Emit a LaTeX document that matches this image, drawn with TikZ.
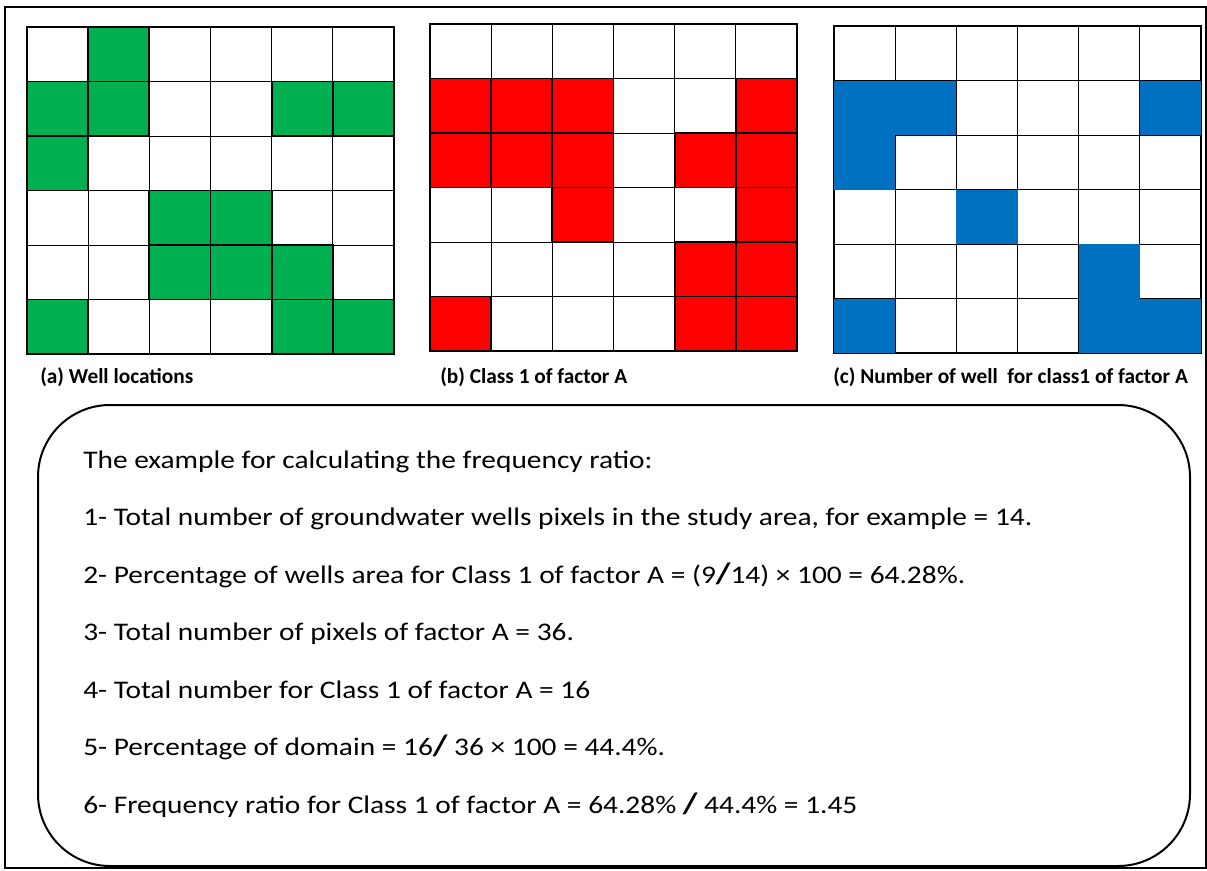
\documentclass[tikz,border=0pt]{standalone}
\usepackage{fontspec}
\setmainfont{Carlito}
\newfontfamily\bodyfont[FakeStretch=1.16]{Carlito}
\definecolor{WellClr}{HTML}{00B050}
\definecolor{ClassClr}{HTML}{FF0000}
\definecolor{HitClr}{HTML}{0070C0}
\newcommand{\cw}{61.17}
\newcommand{\ch}{54.5}
\newcommand{\bigslash}{{\fontsize{22}{22}\selectfont\bfseries/}}

\tikzset{
  gridline/.style={line width=0.6pt},
  cellbox/.style={line width=1.4pt},
  frameline/.style={line width=1.4pt},
  caption/.style={anchor=base west,inner sep=0pt,font=\bfseries\fontsize{16}{19}\selectfont},
  textline/.style={anchor=base west,inner sep=0pt,font=\bodyfont\fontsize{19}{23}\selectfont},
}

\begin{document}
\begin{tikzpicture}[x=0.75pt,y=-0.75pt]
\useasboundingbox (0,0) rectangle (1207,871);
\draw[line width=1.2pt] (5,7) rectangle (1206,868);

% (a) well locations
\begin{scope}[shift={(27,27)}]
\foreach \i in {1,...,5} {
  \draw[gridline] (\i*\cw,0) -- (\i*\cw,327);
  \draw[gridline] (0,\i*\ch) -- (367,\i*\ch);
}
\foreach \c/\r in {1/0,0/1,1/1,4/1,5/1,0/2,2/3,3/3,2/4,3/4,4/4,0/5,4/5,5/5}
  \draw[cellbox,fill=WellClr] (\c*\cw,\r*\ch) rectangle ++(\cw,\ch);
\draw[frameline] (0,0) rectangle (367,327);
\end{scope}

% (b) class 1 of factor A
\begin{scope}[shift={(430,24)}]
\foreach \i in {1,...,5} {
  \draw[gridline] (\i*\cw,0) -- (\i*\cw,327);
  \draw[gridline] (0,\i*\ch) -- (367,\i*\ch);
}
\foreach \c/\r in {0/1,1/1,2/1,5/1,0/2,1/2,2/2,4/2,5/2,2/3,5/3,4/4,5/4,0/5,4/5,5/5}
  \draw[cellbox,fill=ClassClr] (\c*\cw,\r*\ch) rectangle ++(\cw,\ch);
\draw[frameline] (0,0) rectangle (367,327);
\end{scope}

% (c) wells in class 1
\begin{scope}[shift={(834,26)}]
\foreach \i in {1,...,5} {
  \draw[gridline] (\i*\cw,0) -- (\i*\cw,327);
  \draw[gridline] (0,\i*\ch) -- (367,\i*\ch);
}
\draw[frameline] (0,0) rectangle (367,327);
\foreach \c/\r in {0/1,1/1,5/1,0/2,2/3,4/4,0/5,4/5,5/5}
  \fill[HitClr] (\c*\cw,\r*\ch) rectangle ++(\cw,\ch);
\end{scope}

\node[caption] (capA) at (40,383) {(a) Well locations};
\node[caption] (capB) at (440,383) {(b) Class 1 of factor A};
\node[caption] (capC) at (833,383) {(c) Number of well\ \ for class1 of factor A};

\draw[line width=1.5pt,rounded corners=54pt] (38,405) rectangle (1190,866);

\node[textline] (l0) at (83,468) {The example for calculating the frequency ratio:};
\node[textline] (l1) at (83,525.5) {1- Total number of groundwater wells pixels in the study area, for example = 14.};
\node[textline] (l2) at (83,583) {2- Percentage of wells area for Class 1 of factor A = (9\bigslash14) × 100 = 64.28\%.};
\node[textline] (l3) at (83,640.5) {3- Total number of pixels of factor A = 36.};
\node[textline] (l4) at (83,698) {4- Total number for Class 1 of factor A = 16};
\node[textline] (l5) at (83,755.5) {5- Percentage of domain = 16\bigslash\ 36 × 100 = 44.4\%.};
\node[textline] (l6) at (83,813) {6- Frequency ratio for Class 1 of factor A = 64.28\% \bigslash\ 44.4\% = 1.45};
\end{tikzpicture}
\end{document}
